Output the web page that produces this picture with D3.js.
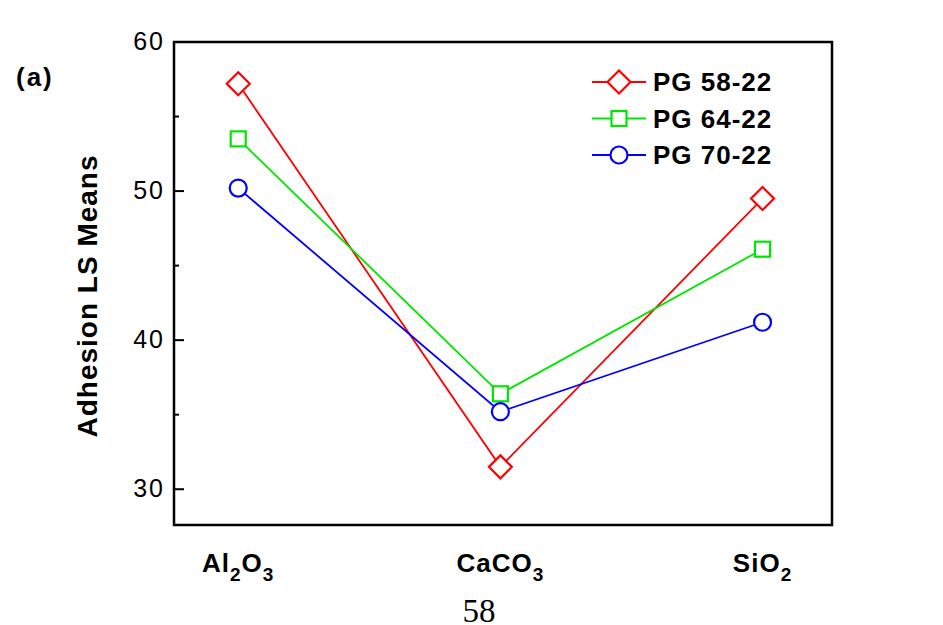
<!DOCTYPE html>
<html>
<head>
<meta charset="utf-8">
<script src="https://cdn.jsdelivr.net/npm/d3@7"></script>
<style>
  body { margin: 0; background: #fff; }
  text { font-family: "Liberation Sans", Arial, sans-serif; }
  text.serif { font-family: "Liberation Serif", "Times New Roman", serif; }
</style>
</head>
<body>
<div id="chart"></div>
<script>
var categories = ['Al2O3', 'CaCO3', 'SiO2'];
var seriesNames = ['PG 58-22', 'PG 64-22', 'PG 70-22'];
var pg58 = [57.2, 31.5, 49.5];
var pg64 = [53.5, 36.4, 46.1];
var pg70 = [50.2, 35.2, 41.2];
var yTicks = [30, 40, 50, 60];
var yMinor = [35, 45, 55];

var width = 943, height = 625;
var pLeft = 174, pRight = 832, pTop = 42, pBottom = 525;

var series = [
  { name: seriesNames[0], values: pg58, color: '#ff0000', shape: 'diamond' },
  { name: seriesNames[1], values: pg64, color: '#00e600', shape: 'square' },
  { name: seriesNames[2], values: pg70, color: '#0000ff', shape: 'circle' }
];

var svg = d3.select('#chart').append('svg')
  .attr('width', width)
  .attr('height', height);

var x = d3.scaleLinear().domain([0.755, 3.265]).range([pLeft, pRight]);
var y = d3.scaleLinear().domain([27.6, 60]).range([pBottom, pTop]);

// frame
svg.append('rect')
  .attr('x', pLeft).attr('y', pTop)
  .attr('width', pRight - pLeft).attr('height', pBottom - pTop)
  .attr('fill', 'none').attr('stroke', '#000').attr('stroke-width', 2.5);

// y ticks (inward)
svg.selectAll('.major').data(yTicks).enter().append('line')
  .attr('x1', pLeft).attr('x2', pLeft + 10)
  .attr('y1', d => y(d)).attr('y2', d => y(d))
  .attr('stroke', '#000').attr('stroke-width', 2);
svg.selectAll('.minor').data(yMinor).enter().append('line')
  .attr('x1', pLeft).attr('x2', pLeft + 5)
  .attr('y1', d => y(d)).attr('y2', d => y(d))
  .attr('stroke', '#000').attr('stroke-width', 2);
svg.selectAll('.ylab').data(yTicks).enter().append('text')
  .attr('x', pLeft - 9).attr('y', d => y(d) + 8)
  .attr('text-anchor', 'end')
  .attr('font-size', 25).attr('letter-spacing', 2)
  .text(d => d);

// y title
svg.append('text')
  .attr('transform', 'translate(97,296) rotate(-90)')
  .attr('text-anchor', 'middle')
  .attr('font-size', 28).attr('font-weight', 'bold').attr('letter-spacing', 1)
  .text('Adhesion LS Means');

svg.append('text')
  .attr('x', 16).attr('y', 86)
  .attr('font-size', 26).attr('font-weight', 'bold').attr('letter-spacing', 2)
  .text('(a)');

// category labels with subscripts
svg.selectAll('.cat').data(categories).enter().append('text')
  .attr('x', (d, i) => x(i + 1))
  .attr('y', 572)
  .attr('text-anchor', 'middle')
  .attr('font-size', 26).attr('font-weight', 'bold').attr('letter-spacing', 1)
  .each(function (d) {
    var t = d3.select(this);
    var prevSub = false;
    d.match(/[A-Za-z]+|\d+/g).forEach(function (part) {
      if (/\d/.test(part)) {
        t.append('tspan').attr('font-size', 19).attr('dy', 9).text(part);
        prevSub = true;
      } else {
        t.append('tspan').attr('dy', prevSub ? -9 : 0).text(part);
        prevSub = false;
      }
    });
  });

// page number
svg.append('text')
  .attr('class', 'serif')
  .attr('x', 479).attr('y', 622)
  .attr('text-anchor', 'middle')
  .attr('font-size', 33)
  .text('58');

function marker(g, shape, color, cx, cy) {
  if (shape === 'diamond') {
    g.append('path')
      .attr('d', 'M' + cx + ',' + (cy - 11.5) + 'L' + (cx + 11.5) + ',' + cy + 'L' + cx + ',' + (cy + 11.5) + 'L' + (cx - 11.5) + ',' + cy + 'Z')
      .attr('fill', '#fff').attr('stroke', color).attr('stroke-width', 2.2);
  } else if (shape === 'square') {
    g.append('rect')
      .attr('x', cx - 7.5).attr('y', cy - 7.5).attr('width', 15).attr('height', 15)
      .attr('fill', '#fff').attr('stroke', color).attr('stroke-width', 2.2);
  } else {
    g.append('circle')
      .attr('cx', cx).attr('cy', cy).attr('r', 8.5)
      .attr('fill', '#fff').attr('stroke', color).attr('stroke-width', 2.2);
  }
}

var line = d3.line().x((d, i) => x(i + 1)).y(d => y(d));

series.forEach(function (s) {
  svg.append('path')
    .datum(s.values)
    .attr('d', line)
    .attr('fill', 'none').attr('stroke', s.color).attr('stroke-width', 1.8);
});
series.forEach(function (s) {
  var g = svg.append('g');
  s.values.forEach(function (v, i) { marker(g, s.shape, s.color, x(i + 1), y(v)); });
});

// legend
series.forEach(function (s, i) {
  var ly = 82 + i * 36.5;
  var g = svg.append('g');
  g.append('line').attr('x1', 592).attr('x2', 646).attr('y1', ly).attr('y2', ly)
    .attr('stroke', s.color).attr('stroke-width', 1.8);
  marker(g, s.shape, s.color, 619, ly);
  g.append('text').attr('x', 653).attr('y', ly + 9)
    .attr('font-size', 26).attr('font-weight', 'bold').attr('letter-spacing', 1)
    .text(s.name);
});
</script>
</body>
</html>
